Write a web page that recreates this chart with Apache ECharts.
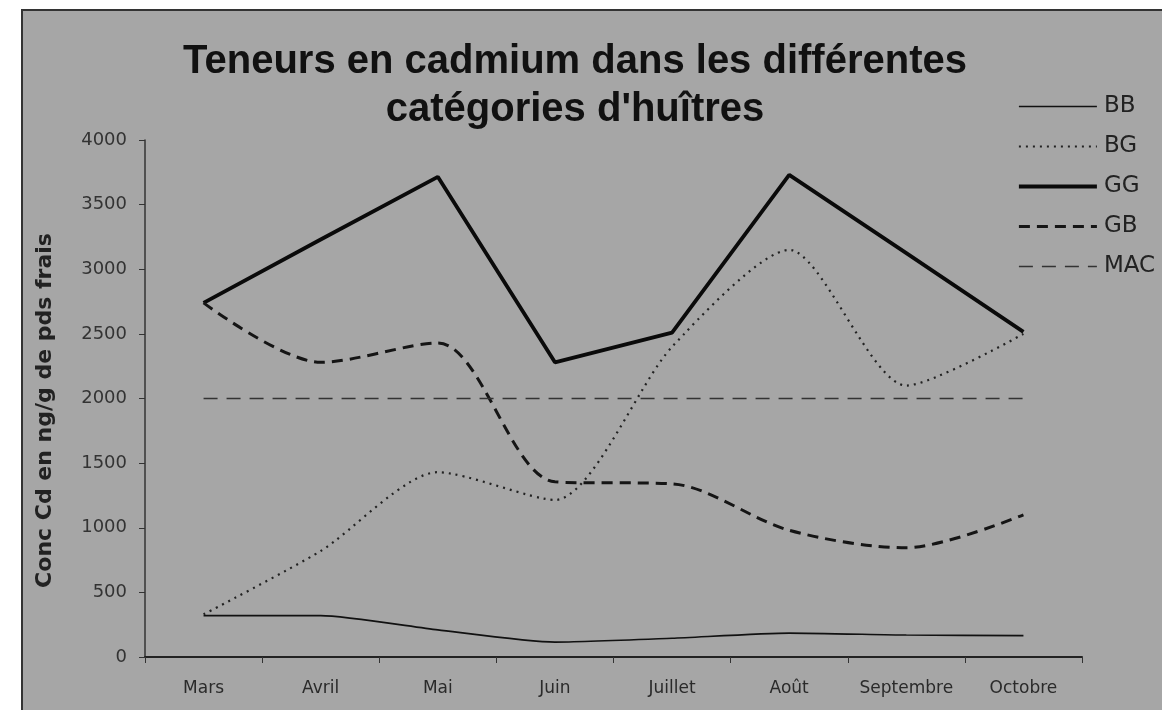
<!DOCTYPE html>
<html>
<head>
<meta charset="utf-8">
<script src="https://cdn.jsdelivr.net/npm/echarts@6/dist/echarts.min.js"></script>
<style>
html,body{margin:0;padding:0;background:#fff;}
#frame{position:absolute;left:21px;top:9px;width:1141px;height:701px;background:#a6a6a6;border-left:2px solid #333;border-top:2px solid #333;box-sizing:border-box;}
#chart{position:absolute;left:0;top:0;width:1162px;height:710px;}
</style>
</head>
<body>
<div id="frame"></div>
<div id="chart"></div>
<script>
const categories = ['Mars','Avril','Mai','Juin','Juillet','Août','Septembre','Octobre'];
const BB  = [320, 320, 210, 115, 145, 185, 170, 165];
const BG  = [330, 820, 1430, 1215, 2400, 3150, 2100, 2500];
const GG  = [2740, 3230, 3715, 2280, 2510, 3730, 3125, 2515];
const GB  = [2740, 2280, 2430, 1355, 1340, 980, 845, 1100];
const MAC = [2000, 2000, 2000, 2000, 2000, 2000, 2000, 2000];
const yTicks = [0, 500, 1000, 1500, 2000, 2500, 3000, 3500, 4000];

const chart = echarts.init(document.getElementById('chart'), null, {renderer:'canvas'});
const font = 'Liberation Sans, Arial, sans-serif';
const wide = 'DejaVu Sans, sans-serif';
const styles = {
  BB:  {width:1.6, type:'solid', color:'#111', smooth:0.2},
  BG:  {width:2.2, type:[2,5],  color:'#222', smooth:0.25},
  GG:  {width:3.8, type:'solid', color:'#0a0a0a', smooth:false},
  GB:  {width:3,   type:[11,7], color:'#151515', smooth:0.3},
  MAC: {width:1.3, type:[14,9], color:'#333', smooth:false}
};
const seriesData = {BB, BG, GG, GB, MAC};
const names = ['BB','BG','GG','GB','MAC'];
chart.setOption({
  animation:false,
  textStyle:{fontFamily:font},
  title:{
    text:"Teneurs en cadmium dans les différentes\ncatégories d'huîtres",
    left:570, top:33, textAlign:'center',
    textStyle:{fontSize:40, fontWeight:'bold', color:'#111', lineHeight:48, fontFamily:font}
  },
  legend:{
    orient:'vertical', left:1012, top:90, itemWidth:78, itemHeight:14, itemGap:17,
    itemStyle:{opacity:0},
    textStyle:{fontSize:23, color:'#222', fontFamily:wide, padding:[0,0,0,2]},
    data: names.map(n => ({name:n, lineStyle:{width:styles[n].width, type:styles[n].type, color:styles[n].color}}))
  },
  grid:{left:145, right:80, top:140, bottom:53},
  xAxis:{
    type:'category', data:categories, boundaryGap:true,
    axisLine:{lineStyle:{color:'#222', width:2}},
    axisTick:{show:true, length:6, lineStyle:{color:'#333'}},
    axisLabel:{fontSize:17, color:'#2a2a2a', margin:23, fontFamily:wide, interval:0}
  },
  yAxis:{
    type:'value', min:0, max:4000, interval:500,
    name:'Conc Cd en ng/g de pds frais', nameLocation:'middle', nameGap:89,
    nameTextStyle:{fontSize:22, fontWeight:'bold', color:'#222', fontFamily:wide, padding:[0,24,0,0]},
    axisLine:{show:true, lineStyle:{color:'#333', width:1.5}},
    axisTick:{show:true, length:6, lineStyle:{color:'#333'}},
    splitLine:{show:false},
    axisLabel:{fontSize:18, color:'#333', margin:18, fontFamily:wide,
      formatter:(v)=> yTicks.includes(v) ? String(v) : ''}
  },
  series: names.map(n => ({
    name:n, type:'line', data:seriesData[n], symbol:'none', smooth:styles[n].smooth,
    lineStyle:{width:styles[n].width, type:styles[n].type, color:styles[n].color},
    itemStyle:{color:styles[n].color}, z:3
  }))
});
</script>
</body>
</html>
